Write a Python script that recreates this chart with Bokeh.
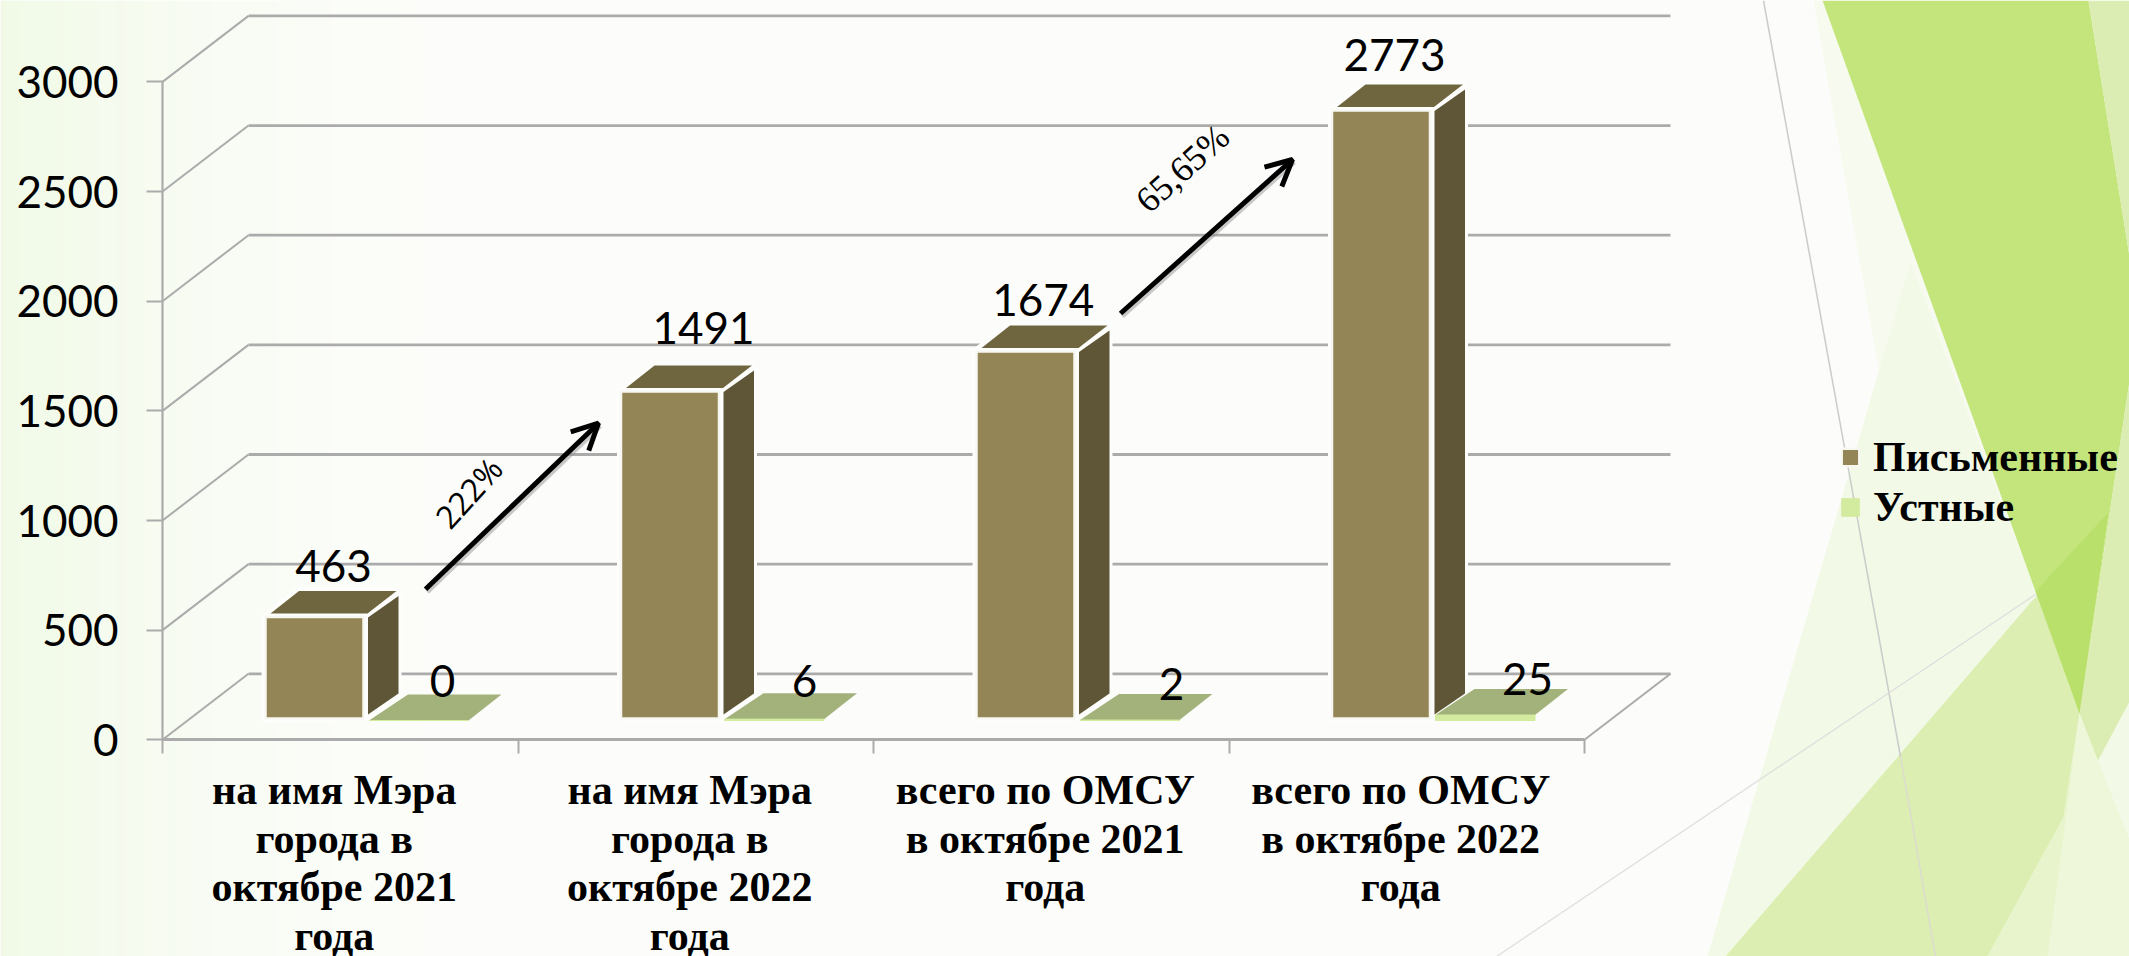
import numpy as np
from bokeh.core.properties import value
from bokeh.embed import file_html
from bokeh.models import (Arrow, FixedTicker, Label, Legend, LegendItem, LinearAxis, OpenHead, Range1d)
from bokeh.plotting import figure
from bokeh.resources import INLINE

# ---- data ----
categories = ["на имя Мэра\nгорода в\nоктябре 2021\nгода",
              "на имя Мэра\nгорода в\nоктябре 2022\nгода",
              "всего по ОМСУ\nв октябре 2021\nгода",
              "всего по ОМСУ\nв октябре 2022\nгода"]
written = [463, 1491, 1674, 2773]
oral = [0, 6, 2, 25]
series_names = ["Письменные", "Устные"]
y_ticks = [0, 500, 1000, 1500, 2000, 2500, 3000]
growth_labels = ["222%", "65,65%"]

# ---- layout: screen pixels of the reference <-> data units ----
W, H, PAGE = 2129, 956, 0
X0, CAT_W = 162.0, 355.5      # pixel of category 0, pixels per category
Y0, K = 739.3, 0.2193         # pixel of value 0, pixels per unit
def ux(px): return (np.asarray(px, float) - X0) / CAT_W
def uy(py): return (Y0 - np.asarray(py, float)) / K
def px_of(i): return X0 + CAT_W * i
def py_of(v): return Y0 - K * v

DEPTH_X, DEPTH_Y = 86, 66     # chart's depth in px
BAR_BASE, GREEN_BASE = 718.0, 720.0
BAR_OFF, BAR_W = 103.0, 98.0  # front face of the bar from its category's start
GREEN_OFF, GREEN_W = 206.5, 99.5

BROWN, BROWN_TOP, BROWN_SIDE = "#938555", "#6f6640", "#5e5636"
GREEN_TOP, GREEN_FRONT = "#a3b27b", "#d3eb9f"
GRID = "#ababab"

p = figure(width=W, height=H, output_backend="svg", toolbar_location=None,
           x_range=Range1d(float(ux(PAGE)), float(ux(PAGE + W))),
           y_range=Range1d(float(uy(PAGE + H)), float(uy(PAGE))),
           x_axis_location=None, y_axis_location=None, min_border=0,
           outline_line_color=None, background_fill_color="#fcfdfa", border_fill_color="#fcfdfa")
p.grid.visible = False

# ---- slide background ----
GW = 520
grad = np.zeros((1, GW), dtype=np.uint32)
view = grad.view(dtype=np.uint8).reshape((1, GW, 4))
view[0, :, 0], view[0, :, 1], view[0, :, 2] = 232, 247, 216
view[0, :, 3] = (np.linspace(1, 0, GW) ** 2.2 * 150).astype(np.uint8)
p.image_rgba(image=[grad], x=float(ux(0)), y=float(uy(956)), dw=float(ux(GW) - ux(0)), dh=float(uy(0) - uy(956)))

BG_SHAPES = [
    ("#f7fbef", [(1813, 0), (1822, 0), (2035, 591), (1937, 701)]),
    ("#f2f9e6", [(1910, 262), (1707, 956), (2129, 956), (2129, 700), (2035, 591)]),
    ("#c3e57c", [(1822, 0), (2088, 0), (2129, 256), (2129, 381), (2079, 713)]),
    ("#dcedb3", [(2088, 0), (2129, 0), (2129, 256)]),
    ("#dcedb3", [(2129, 381), (2079, 713), (2097, 761), (2129, 701)]),
    ("#dceeb2", [(2108, 512), (1725, 956), (1987, 956), (2063, 817), (2079, 713)]),
    ("#b9e06a", [(2035, 591), (2108, 512), (2079, 713)]),
    ("#e8f4cc", [(2079, 713), (2063, 817), (1987, 956), (2129, 956), (2129, 840), (2097, 761)]),
    ("#eef7d9", [(2079, 713), (2047, 956), (2129, 956), (2129, 840)]),
]
for col, pts in BG_SHAPES:
    xs, ys = zip(*pts)
    p.patch(ux(xs), uy(ys), fill_color=col, line_color=None)
p.line(ux([1763, 1900]), uy([0, 756]), line_color="#cbcbcb", line_width=1.5)
p.line(ux([1900, 1935]), uy([756, 956]), line_color="#dcdccf", line_width=1.5)
p.line(ux([1496, 2035]), uy([956, 594]), line_color="#dedede", line_width=1.2)

# ---- walls and floor ----
dxu, dyu = DEPTH_X / CAT_W, DEPTH_Y / K
n = len(categories)
for t in y_ticks:
    p.line([0, dxu], [t, t + dyu], line_color=GRID, line_width=2)
    p.line([dxu, n + dxu], [t + dyu, t + dyu], line_color=GRID, line_width=2.8)
p.line([n, n + dxu], [0, dyu], line_color=GRID, line_width=2)

# ---- 3D columns ----
for i, v in enumerate(written):
    L = px_of(i) + BAR_OFF; R = L + BAR_W
    T = BAR_BASE - K * v
    # halo
    p.patch(ux([L, L, L + 33, R + 34, R + 34, R + 5, R + 5]),
            uy([BAR_BASE, T, T - 26, T - 26, BAR_BASE - 25, BAR_BASE, BAR_BASE]),
            fill_color="#fdfefc", line_color="#fdfefc", line_width=8, line_join="round")
    p.patch(ux([L + 5, R + 4, R + 33, L + 33.5]), uy([T - 3.5, T - 3.5, T - 26, T - 26]),
            fill_color=BROWN_TOP, line_color=None)
    p.patch(ux([R + 4.5, R + 35, R + 35, R + 4.5]), uy([T + .5, T - 21, BAR_BASE - 25, BAR_BASE - 4]),
            fill_color=BROWN_SIDE, line_color=None)

base_u = float(uy(BAR_BASE))
front = p.vbar(x=[i + (BAR_OFF + BAR_W / 2) / CAT_W for i in range(n)],
               bottom=base_u, top=[v + base_u for v in written], width=BAR_W / CAT_W,
               fill_color=BROWN, line_color="#f7f7f2", line_width=2.5)

gbase_u = float(uy(GREEN_BASE))
for i, v in enumerate(oral):
    L = px_of(i) + GREEN_OFF; R = L + GREEN_W
    T = GREEN_BASE - K * v
    p.patch(ux([L, R, R + 33, L + 39]), uy([T, T, T - 26, T - 26]), fill_color=GREEN_TOP, line_color=None)
band = p.vbar(x=[i + (GREEN_OFF + GREEN_W / 2) / CAT_W for i in range(n)],
              bottom=gbase_u, top=[v + gbase_u for v in oral], width=GREEN_W / CAT_W,
              fill_color=GREEN_FRONT, line_color=GREEN_FRONT, line_width=1)

# ---- axes ----
yax = LinearAxis(ticker=FixedTicker(ticks=y_ticks), fixed_location=0, bounds=(0, 3000),
                 axis_line_color=GRID, axis_line_width=2.2, major_tick_line_color=GRID, major_tick_line_width=2.2,
                 major_tick_in=0, major_tick_out=16, minor_tick_line_color=None,
                 major_label_standoff=28, major_label_text_font="Lato", major_label_text_font_size="44px",
                 major_label_text_color="#000000")
p.add_layout(yax, "left")
centers = [i + 0.483 for i in range(n)]
xax = LinearAxis(ticker=FixedTicker(ticks=centers, minor_ticks=list(range(n + 1))), fixed_location=0, bounds=(0, n),
                 major_label_overrides={c: t for c, t in zip(centers, categories)},
                 axis_line_color=GRID, axis_line_width=2.8,
                 major_tick_line_color=None, major_tick_in=0, major_tick_out=0, major_label_standoff=13,
                 minor_tick_line_color=GRID, minor_tick_line_width=2, minor_tick_in=0, minor_tick_out=14,
                 major_label_text_font="Liberation Serif", major_label_text_font_style="bold",
                 major_label_text_font_size="42px", major_label_text_color="#000000",
                 major_label_text_line_height=1.06)
p.add_layout(xax, "below")

# ---- value labels ----
w_x = [171, 185.5, 169.7, 165.5]; w_lift = [72.5, 84.5, 73, 76.5]
o_x = [280, 286.5, 298, 298.5]; o_lift = [59, 57.5, 55.5, 55.5]
for vals, xo, lift in ((written, w_x, w_lift), (oral, o_x, o_lift)):
    p.text(x=[i + xo[i] / CAT_W for i in range(n)], y=vals, text=[str(v) for v in vals],
           y_offset=[-l for l in lift], text_font=value("Lato"), text_font_size="44px",
           text_align="center", text_baseline="middle", text_color="#000000")

# ---- growth arrows ----
ARROWS = [((425, 588.7), (598, 422.7)), ((1120, 313), (1292, 159))]
for (a, b) in ARROWS:
    p.line(ux([a[0] + 2, b[0] + 2]), uy([a[1] + 3, b[1] + 3]), line_color="#8a8a8a", line_alpha=0.45, line_width=4)
    p.add_layout(Arrow(x_start=float(ux(a[0])), y_start=float(uy(a[1])), x_end=float(ux(b[0])), y_end=float(uy(b[1])),
                       line_color="#000000", line_width=5,
                       end=OpenHead(size=26, line_color="#000000", line_width=5)))
p.add_layout(Label(x=float(ux(468)), y=float(uy(492)), text=growth_labels[0], angle=48, angle_units="deg",
                   text_font="Open Sans", text_font_size="32px", text_align="center", text_baseline="middle",
                   text_color="#000000"))
p.add_layout(Label(x=float(ux(1182)), y=float(uy(168)), text=growth_labels[1], angle=42, angle_units="deg",
                   text_font="Liberation Serif", text_font_size="36px", text_align="center", text_baseline="middle",
                   text_color="#000000"))

# ---- legend ----
leg = Legend(items=[LegendItem(label=series_names[0], renderers=[front]),
                    LegendItem(label=series_names[1], renderers=[band])],
             location=(1839, H - 531), orientation="vertical", background_fill_alpha=0, border_line_color=None,
             label_text_font="Liberation Serif", label_text_font_style="bold", label_text_font_size="42px",
             label_text_color="#000000", glyph_width=22, glyph_height=22, label_standoff=12, spacing=2,
             padding=0, margin=0, label_height=42)
p.add_layout(leg, "center")

open("out.html", "w").write(file_html(p, INLINE))
